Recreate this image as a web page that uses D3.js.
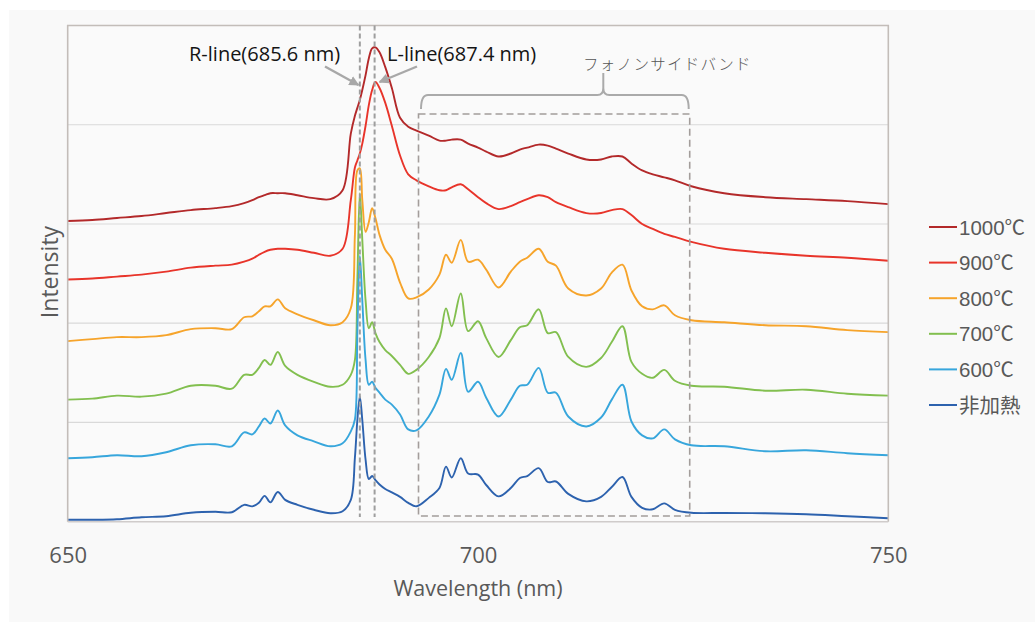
<!DOCTYPE html>
<html>
<head>
<meta charset="utf-8">
<script src="https://cdn.jsdelivr.net/npm/d3@7"></script>
<style>
  html, body { margin: 0; padding: 0; background: #ffffff; }
  svg { display: block; }
</style>
</head>
<body>
<svg id="chart" width="1035" height="622"></svg>
<script>
// Wavelength sampling grid (nm), shared by every spectrum
const wavelengths = [650, 653, 656, 659, 662, 665, 668, 670, 671.5, 672.5, 673.3, 674, 674.7, 675.6, 676.5, 678,
  680, 682, 683.5, 684.5, 685, 685.3, 685.6, 685.9, 686.3, 686.7, 687.1, 687.5, 688, 688.7, 689.5, 690.5,
  691.5, 692.5, 694, 695.3, 696.1, 696.8, 697.9, 698.8, 700, 701, 702.5, 704, 705.1, 706, 707.4, 708.5,
  709.5, 711, 713.2, 715, 716.3, 717.6, 718.7, 720, 721.3, 722.7, 724, 726, 730, 735, 740, 745, 750];

// Series names (legend order)
const categories = ["1000℃", "900℃", "800℃", "700℃", "600℃", "非加熱"];

// Intensity (arbitrary units, spectra stacked with offsets)
const s1000 = [3.03, 3.04, 3.06, 3.08, 3.11, 3.14, 3.16, 3.18, 3.21, 3.24, 3.27, 3.29, 3.31, 3.31, 3.31, 3.29,
  3.26, 3.25, 3.34, 3.91, 4.09, 4.17, 4.25, 4.35, 4.50, 4.67, 4.77, 4.78, 4.73, 4.58, 4.37, 4.07,
  3.98, 3.94, 3.89, 3.84, 3.84, 3.85, 3.85, 3.81, 3.77, 3.73, 3.68, 3.71, 3.75, 3.77, 3.80, 3.79,
  3.76, 3.71, 3.65, 3.65, 3.68, 3.68, 3.61, 3.54, 3.50, 3.47, 3.44, 3.38, 3.31, 3.27, 3.25, 3.23, 3.20];
const s900 = [2.44, 2.45, 2.47, 2.49, 2.52, 2.56, 2.58, 2.59, 2.62, 2.65, 2.69, 2.72, 2.74, 2.75, 2.75, 2.74,
  2.71, 2.68, 2.75, 3.24, 3.57, 3.64, 3.71, 3.81, 3.99, 4.20, 4.35, 4.43, 4.37, 4.22, 3.99, 3.69,
  3.50, 3.44, 3.38, 3.34, 3.34, 3.37, 3.40, 3.35, 3.27, 3.21, 3.15, 3.18, 3.22, 3.25, 3.29, 3.27,
  3.22, 3.17, 3.11, 3.11, 3.14, 3.15, 3.09, 3.00, 2.95, 2.90, 2.87, 2.82, 2.75, 2.71, 2.68, 2.66, 2.63];
const s800 = [1.82, 1.84, 1.86, 1.86, 1.88, 1.94, 1.95, 1.94, 2.06, 2.07, 2.12, 2.17, 2.17, 2.24, 2.15, 2.09,
  2.03, 1.98, 2.01, 2.15, 2.89, 3.54, 3.56, 3.24, 2.92, 3.02, 3.16, 3.06, 2.89, 2.74, 2.65, 2.41,
  2.25, 2.26, 2.34, 2.49, 2.69, 2.61, 2.84, 2.62, 2.64, 2.54, 2.36, 2.52, 2.62, 2.66, 2.75, 2.62,
  2.58, 2.35, 2.28, 2.35, 2.51, 2.59, 2.33, 2.17, 2.14, 2.18, 2.08, 2.03, 2.01, 1.98, 1.97, 1.93, 1.91];
const s700 = [1.23, 1.24, 1.27, 1.26, 1.29, 1.37, 1.37, 1.34, 1.48, 1.48, 1.55, 1.63, 1.58, 1.71, 1.57, 1.48,
  1.41, 1.36, 1.38, 1.48, 1.63, 2.44, 3.31, 2.84, 2.23, 1.95, 2.01, 1.90, 1.81, 1.73, 1.67, 1.58,
  1.49, 1.53, 1.66, 1.85, 2.15, 1.97, 2.30, 1.92, 2.02, 1.85, 1.66, 1.83, 1.96, 1.98, 2.14, 1.90,
  1.91, 1.66, 1.56, 1.65, 1.81, 1.97, 1.61, 1.49, 1.45, 1.53, 1.42, 1.37, 1.36, 1.32, 1.33, 1.29, 1.27];
const s600 = [0.64, 0.65, 0.67, 0.66, 0.70, 0.77, 0.78, 0.76, 0.90, 0.88, 0.96, 1.04, 0.99, 1.12, 0.97, 0.87,
  0.81, 0.76, 0.79, 0.91, 1.03, 1.93, 2.68, 2.23, 1.63, 1.38, 1.41, 1.35, 1.30, 1.23, 1.18, 1.08,
  0.93, 0.92, 1.06, 1.28, 1.54, 1.43, 1.70, 1.31, 1.41, 1.25, 1.06, 1.23, 1.37, 1.38, 1.55, 1.30,
  1.30, 1.06, 0.96, 1.05, 1.23, 1.38, 1.01, 0.87, 0.84, 0.93, 0.83, 0.77, 0.76, 0.71, 0.72, 0.69, 0.67];
const sUnheated = [0.02, 0.02, 0.025, 0.045, 0.055, 0.09, 0.10, 0.095, 0.17, 0.155, 0.19, 0.26, 0.195, 0.30, 0.22, 0.17,
  0.12, 0.085, 0.105, 0.22, 0.645, 1.025, 1.26, 1.025, 0.625, 0.43, 0.46, 0.42, 0.375, 0.33, 0.295, 0.25,
  0.19, 0.155, 0.24, 0.34, 0.555, 0.445, 0.64, 0.485, 0.475, 0.37, 0.255, 0.34, 0.44, 0.46, 0.54, 0.40,
  0.405, 0.28, 0.205, 0.25, 0.35, 0.45, 0.25, 0.14, 0.125, 0.185, 0.12, 0.09, 0.088, 0.085, 0.075, 0.055, 0.035];

const seriesValues = [s1000, s900, s800, s700, s600, sUnheated];

// Axis ticks and gridlines
const xTicks = [650, 700, 750];
const yGrid = [1, 2, 3, 4];

// Reference lines (nm) and the phonon sideband range
const rLine = 685.6;
const lLine = 687.4;
const sideband = [692.75, 725.8];

// Styling
const colors = ["#b3292a", "#e8342a", "#f6a42b", "#82bf4f", "#37a6dc", "#2d62ae"];
const W = 1035, H = 622;
const margin = { left: 67.7, right: 1035 - 888.3, top: 25.5, bottom: 622 - 521.7 };

const svg = d3.select("#chart");

// soft grey panel behind the chart
svg.append("rect").attr("x", 0).attr("y", 0).attr("width", W).attr("height", H).attr("fill", "#ffffff");
svg.append("rect").attr("x", 9).attr("y", 10).attr("width", W - 9).attr("height", H - 10).attr("fill", "#f9f9f9");

const x = d3.scaleLinear().domain([650, 750]).range([margin.left, W - margin.right]);
const y = d3.scaleLinear().domain([0, 5]).range([H - margin.bottom, margin.top]);

// plot area
svg.append("rect")
  .attr("x", x(650)).attr("y", y(5))
  .attr("width", x(750) - x(650)).attr("height", y(0) - y(5))
  .attr("fill", "#fafafa");

// horizontal gridlines
svg.append("g").selectAll("line").data(yGrid).join("line")
  .attr("x1", x(650)).attr("x2", x(750))
  .attr("y1", d => y(d)).attr("y2", d => y(d))
  .attr("stroke", "#d9d9d9").attr("stroke-width", 1.2);

// x axis labels
const xAxis = d3.axisBottom(x).tickValues(xTicks).tickSize(0).tickPadding(0).tickFormat(d3.format("d"));
const gx = svg.append("g").attr("transform", `translate(0,${y(0)})`).call(xAxis);
gx.select(".domain").remove();
gx.selectAll("text")
  .attr("dy", 0).attr("y", 41)
  .attr("font-family", "'Open Sans', 'Noto Sans', sans-serif")
  .attr("font-size", 22).attr("fill", "#595959");

// spectra
const line = d3.line()
  .x((d, i) => x(wavelengths[i]))
  .y(d => y(d))
  .curve(d3.curveCatmullRom.alpha(0.5));

svg.append("g").selectAll("path").data(seriesValues).join("path")
  .attr("d", d => line(d))
  .attr("fill", "none")
  .attr("stroke", (d, i) => colors[i])
  .attr("stroke-width", 1.9)
  .attr("stroke-linejoin", "round");

// plot frame
svg.append("path")
  .attr("d", `M${x(650)},${y(0)} V${y(5)} H${x(750)} V${y(0)}`)
  .attr("fill", "none").attr("stroke", "#c3bdb9").attr("stroke-width", 1.6);
svg.append("line")
  .attr("x1", x(650)).attr("x2", x(750)).attr("y1", y(0)).attr("y2", y(0))
  .attr("stroke", "#d0cccb").attr("stroke-width", 1.4);

// R-line and L-line markers
svg.append("g").selectAll("line").data([rLine, lLine]).join("line")
  .attr("x1", d => x(d)).attr("x2", d => x(d))
  .attr("y1", y(5)).attr("y2", 517)
  .attr("stroke", "#9e9e9e").attr("stroke-width", 2)
  .attr("stroke-dasharray", "5,3");

// phonon sideband box
svg.append("rect")
  .attr("x", x(sideband[0])).attr("y", 114)
  .attr("width", x(sideband[1]) - x(sideband[0])).attr("height", 516 - 114)
  .attr("fill", "none").attr("stroke", "#a39d9b").attr("stroke-width", 1.6)
  .attr("stroke-dasharray", "7,4");

// bracket above the sideband
const bx0 = x(sideband[0]) + 2.5, bx1 = x(sideband[1]) - 1, bn = 603.3;
svg.append("path")
  .attr("d", `M${bx0},109 Q${bx0},95 ${bx0 + 7},95 L${bn - 6},95 Q${bn},95 ${bn},88 L${bn},73 ` +
             `M${bn},88 Q${bn},95 ${bn + 6},95 L${bx1 - 7},95 Q${bx1},95 ${bx1},109`)
  .attr("fill", "none").attr("stroke", "#aaaaaa").attr("stroke-width", 2);

svg.append("text")
  .attr("x", 583).attr("y", 70)
  .attr("font-family", "'Noto Sans CJK JP', sans-serif")
  .attr("font-size", 15.5).attr("font-weight", 300)
  .attr("letter-spacing", 1.3)
  .attr("fill", "#555555")
  .text("フォノンサイドバンド");

// arrows pointing to the R and L lines
svg.append("defs").append("marker")
  .attr("id", "arrowhead").attr("viewBox", "0 0 10 10")
  .attr("refX", 9).attr("refY", 5)
  .attr("markerWidth", 4.2).attr("markerHeight", 4.2)
  .attr("markerUnits", "strokeWidth")
  .attr("orient", "auto")
  .append("path").attr("d", "M0,0 L10,5 L0,10 z").attr("fill", "#a8a8a8");

const arrows = [
  { from: [325, 66.5], to: [358.5, 85] },
  { from: [417, 66.5], to: [379.5, 82] }
];
svg.append("g").selectAll("line").data(arrows).join("line")
  .attr("x1", d => d.from[0]).attr("y1", d => d.from[1])
  .attr("x2", d => d.to[0]).attr("y2", d => d.to[1])
  .attr("stroke", "#a8a8a8").attr("stroke-width", 2.4)
  .attr("marker-end", "url(#arrowhead)");

const annot = svg.append("g")
  .attr("font-family", "'Open Sans', 'Noto Sans', sans-serif")
  .attr("font-size", 20).attr("font-weight", 500).attr("fill", "#141414");
annot.append("text").attr("x", 189).attr("y", 61).text(`R-line(${rLine} nm)`);
annot.append("text").attr("x", 387).attr("y", 61).text(`L-line(${lLine} nm)`);

// axis titles
svg.append("text")
  .attr("x", x(700)).attr("y", 596)
  .attr("text-anchor", "middle")
  .attr("font-family", "'Open Sans', 'Noto Sans', sans-serif")
  .attr("font-size", 21.5).attr("fill", "#595959")
  .text("Wavelength (nm)");

svg.append("text")
  .attr("transform", "translate(57.5,272) rotate(-90)")
  .attr("text-anchor", "middle")
  .attr("font-family", "'Open Sans', 'Noto Sans', sans-serif")
  .attr("font-size", 23).attr("fill", "#595959")
  .text("Intensity");

// legend
const legend = svg.append("g").selectAll("g").data(categories).join("g")
  .attr("transform", (d, i) => `translate(929,${227 + i * 35.6})`);
legend.append("line")
  .attr("x1", 0).attr("x2", 28).attr("y1", 0).attr("y2", 0)
  .attr("stroke", (d, i) => colors[i]).attr("stroke-width", 2);
legend.append("text")
  .attr("x", 30).attr("y", 7.5)
  .attr("font-family", "'Liberation Sans', 'Noto Sans CJK JP', sans-serif")
  .attr("font-size", 20.5).attr("fill", "#595959")
  .text(d => d);
</script>
</body>
</html>
